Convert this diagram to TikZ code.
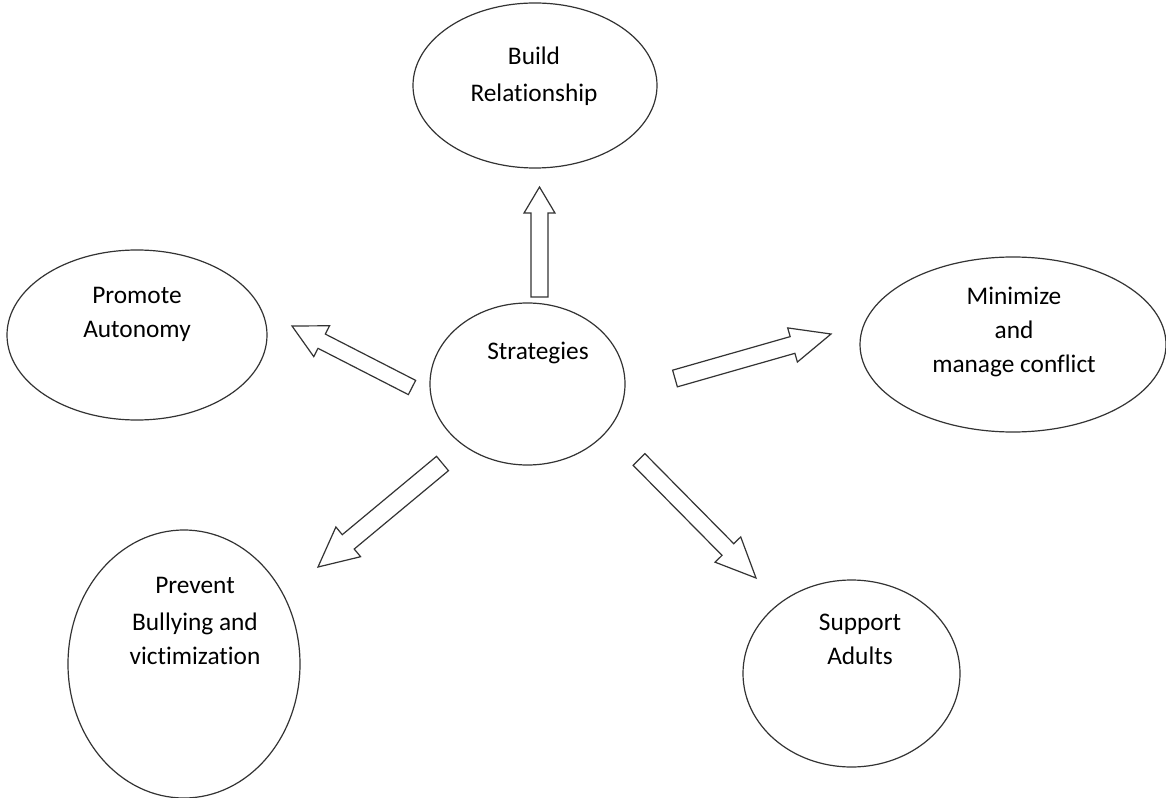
\documentclass[tikz,border=0pt]{standalone}
\usepackage{fontspec}
\setmainfont{Carlito}[Ligatures={CommonOff,RareOff},Contextuals=AlternateOff]
\usetikzlibrary{calc,shapes.geometric}
\tikzset{
  oval/.style={ellipse, draw=black!80, line width=0.9pt, inner sep=0pt},
  txt/.style={align=center, inner sep=0pt, text=black, font=\fontsize{19}{25.5}\selectfont},
  barrow/.style={draw=black!80, line width=0.9pt, fill=white, line join=miter}
}
% tail, tip, head length, half head width, half shaft width
\newcommand\blockarrow[5]{%
  \coordinate (#1-hb) at ($(#2)!#3!(#1)$);
  \draw[barrow] ($(#1)!#5!90:(#2)$) -- ($(#1-hb)!#5!90:(#2)$) -- ($(#1-hb)!#4!90:(#2)$)
    -- (#2) -- ($(#1-hb)!#4!-90:(#2)$) -- ($(#1-hb)!#5!-90:(#2)$) -- ($(#1)!#5!-90:(#2)$) -- cycle;
}
\begin{document}
\begin{tikzpicture}[x=0.75pt, y=-0.75pt]
\useasboundingbox (0,0) rectangle (1166,798);
\fill[white] (0,0) rectangle (1166,798);
% ellipses
\node[oval, minimum width={244*0.75pt}, minimum height={165*0.75pt}] (build) at (535,85.5) {};
\node[oval, minimum width={260*0.75pt}, minimum height={170*0.75pt}] (auto) at (137,335) {};
\node[oval, minimum width={195*0.75pt}, minimum height={162*0.75pt}] (strat) at (527.5,384) {};
\node[oval, minimum width={306*0.75pt}, minimum height={175*0.75pt}] (confl) at (1013,344.5) {};
\node[oval, minimum width={232*0.75pt}, minimum height={268*0.75pt}] (bully) at (184,664) {};
\node[oval, minimum width={217*0.75pt}, minimum height={187*0.75pt}] (adult) at (851.5,673.5) {};
% texts
\node[txt] (tbuild) at (534,76) {Build\\[2pt]Relationship};
\node[txt] (tauto) at (137,314) {Promote\\Autonomy};
\node[txt] (tstrat) at (538,353) {Strategies};
\node[txt] (tconfl) at (1014,332) {Minimize\\and\\manage conflict};
\node[txt] (tbully) at (195,621) {Prevent\\[2pt]Bullying and\\victimization};
\node[txt] (tadult) at (860,639) {Support\\Adults};
% arrow end points
\coordinate (aUt) at (539.5,297);  \coordinate (aUh) at (539.5,187);
\coordinate (aLt) at (412,387.5);  \coordinate (aLh) at (292,326);
\coordinate (aRt) at (675,378.5);  \coordinate (aRh) at (831,334);
\coordinate (aDLt) at (442.5,463.5); \coordinate (aDLh) at (318,567);
\coordinate (aDRt) at (639,459.5); \coordinate (aDRh) at (756,578);
\blockarrow{aUt}{aUh}{19.5pt}{11.6pt}{6.4pt}
\blockarrow{aLt}{aLh}{25pt}{13pt}{6pt}
\blockarrow{aRt}{aRh}{30pt}{13.3pt}{6.5pt}
\blockarrow{aDLt}{aDLh}{29.5pt}{14.5pt}{7pt}
\blockarrow{aDRt}{aDRh}{30pt}{13.5pt}{6.2pt}
\end{tikzpicture}
\end{document}
